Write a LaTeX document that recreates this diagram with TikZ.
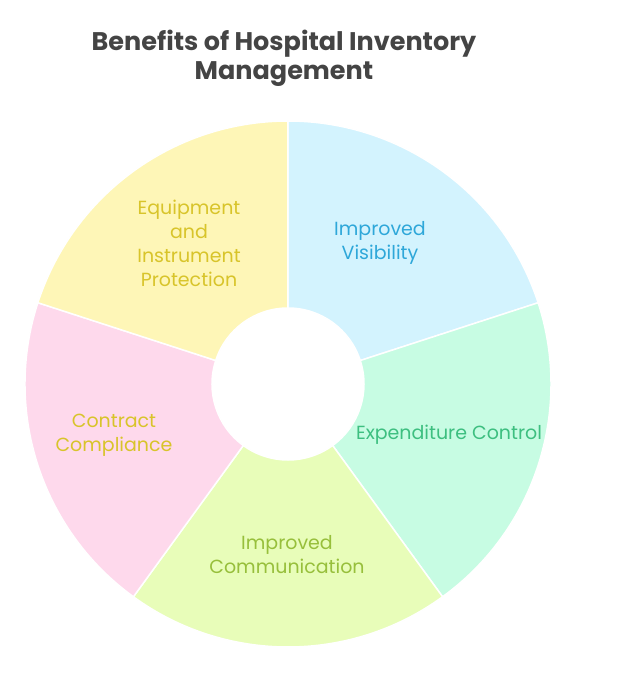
\documentclass[tikz,border=0pt]{standalone}
\usepackage{fontspec}
\setmainfont{Poppins}
\usepackage{xcolor}

\definecolor{visfill}{HTML}{D3F3FE} \definecolor{vistext}{HTML}{2EA7D9}
\definecolor{expfill}{HTML}{C7FCE3} \definecolor{exptext}{HTML}{3DBF80}
\definecolor{comfill}{HTML}{E8FDB9} \definecolor{comtext}{HTML}{97BF3B}
\definecolor{conffill}{HTML}{FED9EC} \definecolor{context}{HTML}{D8C42A}
\definecolor{eqfill}{HTML}{FEF6B7}  \definecolor{eqtext}{HTML}{D8C42A}
\definecolor{titletext}{HTML}{444444}

\begin{document}
\begin{tikzpicture}[x=1pt,y=1pt,
  sector/.style={draw=white,line width=1.5pt},
  label/.style={align=center,font=\fontsize{19}{24}\selectfont}]
\useasboundingbox (-288,-312) rectangle (334,384); %page 622x696

% donut, five sectors clockwise from the top
\foreach \a/\col in {90/visfill,18/expfill,-54/comfill,-126/conffill,162/eqfill}
  \draw[sector,fill=\col] (\a:263) arc[start angle=\a,end angle=\a-72,radius=263]
     -- (\a-72:76) arc[start angle=\a-72,end angle=\a,radius=76] -- cycle;

\node[label,text=vistext] (visibility) at (92,141) {Improved\\Visibility};
\node[label,text=exptext] (expenditure) at (161,-51) {Expenditure Control};
\node[label,text=comtext] (communication) at (-1,-171) {Improved\\Communication};
\node[label,text=context] (compliance) at (-174,-51) {Contract\\Compliance};
\node[label,text=eqtext] (equipment) at (-99,141) {Equipment\\and\\Instrument\\Protection};

\node[align=center,text=titletext,font=\fontsize{25.5}{29}\selectfont\bfseries] (title) at (-4,325.5)
  {Benefits of Hospital Inventory\\Management};
\end{tikzpicture}
\end{document}
